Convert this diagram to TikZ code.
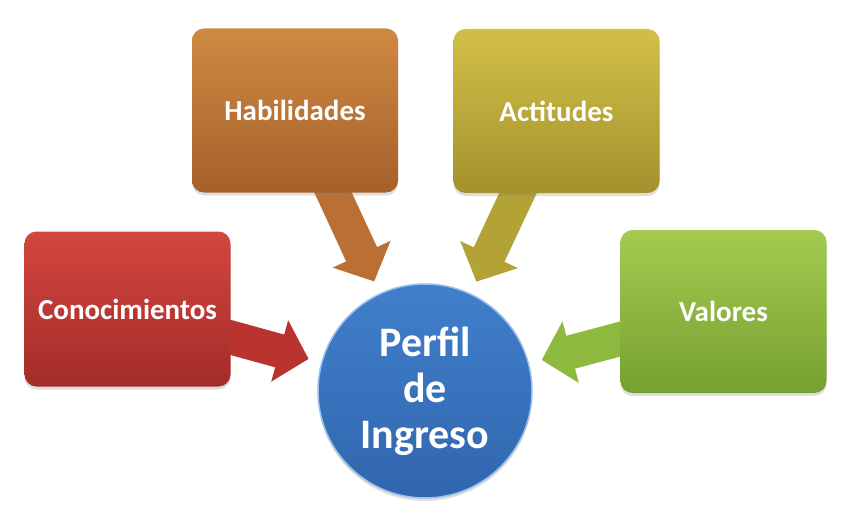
\documentclass[tikz,border=0pt]{standalone}
\usepackage{fontspec}
\setmainfont{Carlito}
\usetikzlibrary{arrows.meta, backgrounds, shadows}
\definecolor{conoTop}{HTML}{D4463F}
\definecolor{conoBot}{HTML}{A32C29}
\definecolor{conoArrow}{HTML}{B9332F}
\definecolor{habilTop}{HTML}{D08942}
\definecolor{habilBot}{HTML}{A5602B}
\definecolor{habilArrow}{HTML}{BA7034}
\definecolor{actiTop}{HTML}{D2BF48}
\definecolor{actiBot}{HTML}{A3922D}
\definecolor{actiArrow}{HTML}{B3A235}
\definecolor{valoTop}{HTML}{A4CB4F}
\definecolor{valoBot}{HTML}{76A031}
\definecolor{valoArrow}{HTML}{8DB93E}
\definecolor{perfilTop}{HTML}{417FCB}
\definecolor{perfilBot}{HTML}{3066AE}
\definecolor{perfilRim}{HTML}{9CC0EA}
\tikzset{box/.style={rectangle, rounded corners=12pt, minimum width=206pt, minimum height=164pt, text=white, font=\fontsize{29}{34}\selectfont\bfseries, drop shadow={opacity=0.25, shadow xshift=0pt, shadow yshift=-3pt}}}
\tikzset{perfil/.style={circle, minimum size=214pt, inner sep=0pt, align=center, text=white, top color=perfilTop, bottom color=perfilBot, draw=perfilRim, line width=1.5pt, font=\fontsize{42}{46}\selectfont\bfseries, drop shadow={opacity=0.25, shadow xshift=0pt, shadow yshift=-3pt}}}
\tikzset{blockarrow/.style={line width=34pt, -{Triangle[length=30pt, width=62pt]}, shorten >=13pt}}

\begin{document}
\begin{tikzpicture}[x=1pt, y=-1pt]
    \useasboundingbox (0,0) rectangle (858,519);
    \node[box, minimum height=155pt, top color=conoTop, bottom color=conoBot] (cono) at (127.5, 309) {Conocimientos};
    \node[box, top color=habilTop, bottom color=habilBot] (habil) at (295, 110.5) {Habilidades};
    \node[box, top color=actiTop, bottom color=actiBot] (acti) at (556.5, 111) {Actitudes};
    \node[box, minimum height=163pt, top color=valoTop, bottom color=valoBot] (valo) at (723.5, 311.5) {Valores};
    \node[perfil] (perf) at (425, 391) {Perfil\\de\\Ingreso};
    \begin{scope}[on background layer]
        \foreach \src/\col in {cono/conoArrow, habil/habilArrow, acti/actiArrow, valo/valoArrow} {
            \draw[blockarrow, \col] (\src.center) -- (perf);
        }
    \end{scope}
\end{tikzpicture}
\end{document}
